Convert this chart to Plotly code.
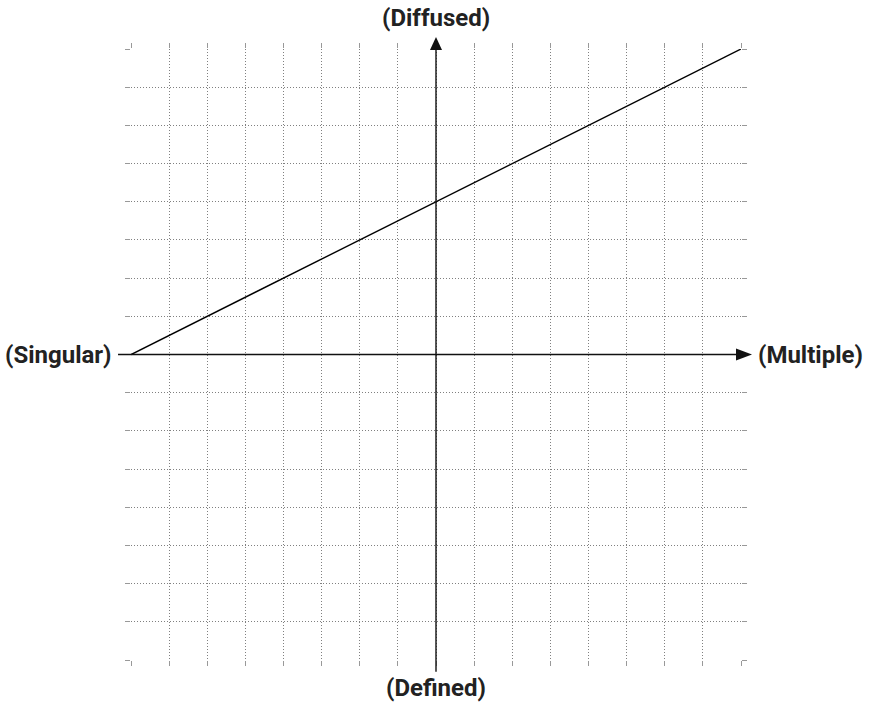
import plotly.graph_objects as go

# Data
line_x = [-8, 8]
line_y = [0, 8]
grid_ticks = list(range(-8, 9))
labels = {"top": "(Diffused)", "bottom": "(Defined)", "left": "(Singular)", "right": "(Multiple)"}

LO, HI = grid_ticks[0], grid_ticks[-1]


def dom(v):
    return (v - LO) / (HI - LO)


fig = go.Figure()

# data line
fig.add_trace(go.Scatter(x=line_x, y=line_y, mode="lines",
                         line=dict(color="black", width=1.4), cliponaxis=False,
                         hoverinfo="skip", showlegend=False))

axis_common = dict(
    tickvals=grid_ticks, showticklabels=False, showgrid=True,
    gridcolor="#808080", griddash="1px,2px", gridwidth=1,
    ticks="outside", ticklen=5, tickcolor="#999", tickwidth=1,
    mirror="ticks", showline=False, zeroline=False, fixedrange=True,
)
fig.update_xaxes(range=[LO, HI], **axis_common)
fig.update_yaxes(range=[LO, HI], **axis_common)

# axis lines (domain refs -> not clipped)
fig.add_shape(type="line", xref="x domain", yref="y domain",
              x0=dom(-8.34), x1=dom(8.1), y0=dom(0), y1=dom(0),
              line=dict(color="#111", width=1.4))
fig.add_shape(type="line", xref="x domain", yref="y domain",
              x0=dom(0), x1=dom(0), y0=dom(-8.31), y1=dom(8.1),
              line=dict(color="#111", width=1.4))
# arrowheads (pixel-sized triangles anchored at axis ends)
fig.add_shape(type="path", xref="x domain", yref="y domain",
              xsizemode="pixel", ysizemode="pixel", xanchor=dom(8), yanchor=dom(0),
              path="M -5 -6 L 11 0 L -5 6 Z", fillcolor="#111", line=dict(width=0))
fig.add_shape(type="path", xref="x domain", yref="y domain",
              xsizemode="pixel", ysizemode="pixel", xanchor=dom(0), yanchor=dom(8),
              path="M -6 -1 L 0 12 L 6 -1 Z", fillcolor="#111", line=dict(width=0))

font = dict(family="Roboto", size=24, color="#222")
fig.add_annotation(x=0, y=1, xref="x", yref="paper", yshift=31, text="<b>%s</b>" % labels["top"],
                   showarrow=False, font=font, xanchor="center", yanchor="middle")
fig.add_annotation(x=0, y=0, xref="x", yref="paper", yshift=-28, text="<b>%s</b>" % labels["bottom"],
                   showarrow=False, font=font, xanchor="center", yanchor="middle")
fig.add_annotation(x=0, y=0, xref="paper", yref="y", xshift=-17, text="<b>%s</b>" % labels["left"],
                   showarrow=False, font=font, xanchor="right", yanchor="middle")
fig.add_annotation(x=1, y=0, xref="paper", yref="y", xshift=15, text="<b>%s</b>" % labels["right"],
                   showarrow=False, font=font, xanchor="left", yanchor="middle")

fig.update_layout(width=871, height=704, margin=dict(l=131, r=130, t=49, b=44),
                  plot_bgcolor="white", paper_bgcolor="white", showlegend=False)

fig.write_html("out.html", config={"displayModeBar": False},
               post_script="document.body.style.margin='0';document.body.style.overflow='hidden';")
